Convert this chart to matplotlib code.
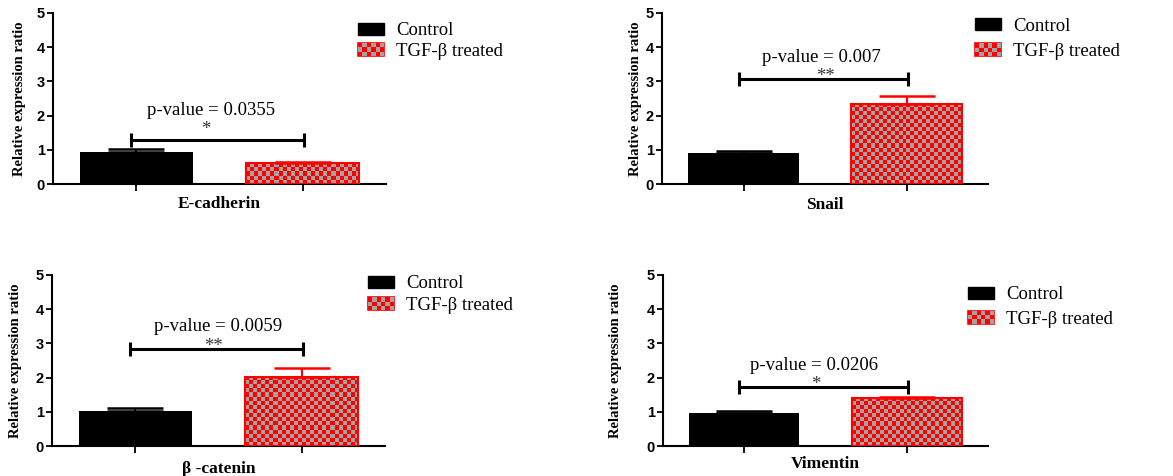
import numpy as np
import matplotlib
matplotlib.use('Agg')
import matplotlib.pyplot as plt
from matplotlib.patches import Patch, Rectangle
from matplotlib.legend_handler import HandlerBase

# Datos
genes = ['E-cadherin', 'Snail', 'β -catenin', 'Vimentin']
control_mean = [0.95, 0.91, 1.02, 0.96]
control_err = [0.07, 0.05, 0.09, 0.06]
tgf_mean = [0.61, 2.34, 2.03, 1.41]
tgf_err = [0.02, 0.24, 0.25, 0.03]
p_values = ['0.0355', '0.007', '0.0059', '0.0206']
stars = ['*', '**', '**', '*']
bracket_y = [1.29, 3.07, 2.84, 1.73]
series = ['Control', 'TGF-β treated']

RED = '#FF0000'
GRAY = '#A3A3A3'
SERIF = 'Liberation Serif'
SANS = 'Liberation Sans'

# Posicion de cada panel [left, bottom, width, height] y ajustes de texto
panel_pos = [[0.0452, 0.6134, 0.2839, 0.3593],
             [0.5644, 0.6134, 0.2779, 0.3593],
             [0.0443, 0.0630, 0.2839, 0.3593],
             [0.5652, 0.0630, 0.2771, 0.3593]]
ylabel_x = [-0.081, -0.062, -0.090, -0.127]
xlabel_y = [-0.068, -0.074, -0.086, -0.056]
legend_xy = [(0.916, 0.945), (0.960, 0.972), (0.949, 0.997), (0.938, 0.933)]
legend_gap = [0.2, 0.45, 0.25, 0.4]
ptext = [(0.45, 2.16), (0.48, 3.71), (0.50, 3.48), (0.43, 2.34)]
star_xy = [(0.42, 1.75), (0.50, 3.30), (0.47, 3.07), (0.44, 1.96)]


class CheckerHandler(HandlerBase):
    # Patron de cuadros gris/rojo para la leyenda
    def create_artists(self, legend, orig_handle, xdescent, ydescent,
                       width, height, fontsize, trans):
        arts = [Rectangle((-xdescent, -ydescent), width, height,
                          facecolor=RED, edgecolor=RED, lw=1.2, transform=trans)]
        nc, nr = 6, 3
        cw, ch = width / nc, height / nr
        for i in range(nr):
            for j in range(nc):
                if (i + j) % 2 == 1:
                    arts.append(Rectangle((-xdescent + j * cw, -ydescent + i * ch), cw, ch,
                                          facecolor=GRAY, edgecolor='none', transform=trans))
        return arts


def checker_fill(ax, bar, cell_px=4):
    x0, w, h = bar.get_x(), bar.get_width(), bar.get_height()
    p0 = ax.transData.transform((x0, 0))
    p1 = ax.transData.transform((x0 + w, h))
    nc = max(1, int(round((p1[0] - p0[0]) / cell_px)))
    nr = max(1, int(round((p1[1] - p0[1]) / cell_px)))
    idx = np.indices((nr, nc)).sum(axis=0) % 2
    img = np.zeros((nr, nc, 3))
    img[idx == 0] = (1.0, 0.0, 0.0)
    img[idx == 1] = (0.64, 0.64, 0.64)
    im = ax.imshow(img, extent=(x0, x0 + w, 0, h), aspect='auto',
                   interpolation='nearest', zorder=2)
    im.set_clip_path(bar)


fig = plt.figure(figsize=(11.73, 4.76), dpi=100)

for k in range(4):
    ax = fig.add_axes(panel_pos[k])
    ax.set_xlim(-0.5, 1.5)
    ax.set_ylim(0, 5)

    b1 = ax.bar(0, control_mean[k], width=0.68, color='black', zorder=2)
    b2 = ax.bar(1, tgf_mean[k], width=0.68, color=RED, zorder=1)
    checker_fill(ax, b2[0])
    ax.bar(1, tgf_mean[k], width=0.68, fill=False, edgecolor=RED, lw=1.5, zorder=3)

    # Barras de error solo hacia arriba
    ax.errorbar(0, control_mean[k], yerr=[[0], [control_err[k]]], fmt='none',
                ecolor='black', elinewidth=1.5, capsize=20, capthick=1.8, zorder=4)
    ax.errorbar(1, tgf_mean[k], yerr=[[0], [tgf_err[k]]], fmt='none',
                ecolor=RED, elinewidth=1.5, capsize=20, capthick=1.8, zorder=4)

    # Corchete de significancia
    ax.plot([-0.03, 1.01], [bracket_y[k], bracket_y[k]], color='black', lw=2.2,
            solid_capstyle='butt', clip_on=False)
    ax.plot([-0.03, 1.01], [bracket_y[k], bracket_y[k]], ls='none', marker='|',
            ms=9.5, mew=2.2, color='black', clip_on=False)
    ax.text(ptext[k][0], ptext[k][1], 'p-value = ' + p_values[k], ha='center',
            va='center', family=SERIF, fontsize=13.5)
    ax.text(star_xy[k][0], star_xy[k][1] - 0.29, stars[k], ha='center',
            va='baseline', family=SERIF, fontsize=13.5, color='#333333')

    for s in ['top', 'right']:
        ax.spines[s].set_visible(False)
    for s in ['left', 'bottom']:
        ax.spines[s].set_linewidth(1.5)
    ax.set_xticks([0, 1])
    ax.set_xticklabels(['', ''])
    ax.tick_params(axis='x', length=5, width=1.3)
    ax.set_yticks(range(6))
    ax.tick_params(axis='y', length=4, width=1.3, pad=2)
    for t in ax.get_yticklabels():
        t.set_family(SANS)
        t.set_fontweight('bold')
        t.set_fontsize(10.5)

    ax.set_ylabel('Relative expression ratio', family=SERIF, fontweight='bold', fontsize=10.5)
    ax.yaxis.set_label_coords(ylabel_x[k], 0.5)
    ax.set_xlabel(genes[k], family=SERIF, fontweight='bold', fontsize=12.5)
    ax.xaxis.set_label_coords(0.5, xlabel_y[k])

    h1 = Patch(facecolor='black', edgecolor='black')
    h2 = Patch(facecolor=RED, edgecolor=RED)
    ax.legend([h1, h2], series, handler_map={h2: CheckerHandler()},
              loc='upper left', bbox_to_anchor=legend_xy[k], borderaxespad=0,
              frameon=False, prop={'family': SERIF, 'size': 13.5},
              handlelength=1.4, handleheight=0.65, handletextpad=0.65,
              labelspacing=legend_gap[k], borderpad=0)

fig.savefig('out.png', dpi=100)
